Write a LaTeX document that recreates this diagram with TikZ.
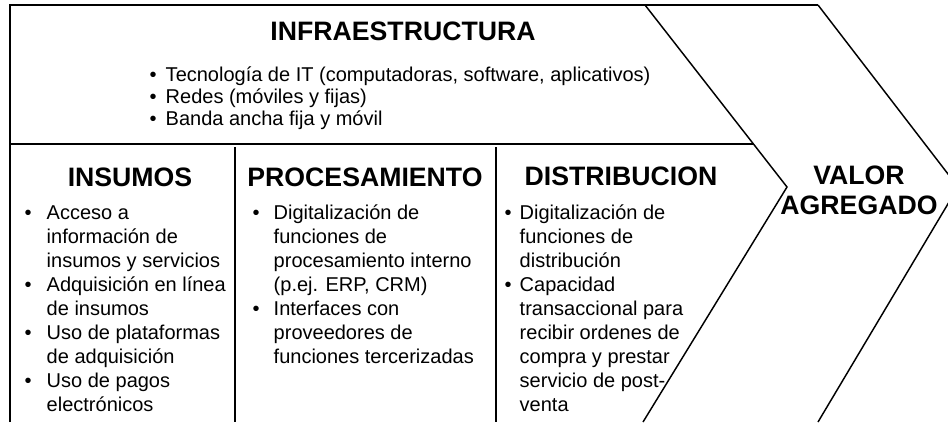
\documentclass[tikz,border=0pt]{standalone}
\usepackage{fontspec}
\setmainfont{Liberation Sans}
\usepackage{array}

\tikzset{every picture/.style={line width=1.1pt}}
\newcommand{\fuentetitulo}{\fontsize{20}{22.5}\selectfont\bfseries}
\newcommand{\fuentelista}{\fontsize{15}{18}\selectfont}

\begin{document}
\begin{tikzpicture}[x=0.75pt,y=0.75pt,yscale=-1,xscale=1,
  encab/.style={anchor=base,inner sep=0pt,font=\fuentetitulo},
  lista/.style={anchor=base west,inner sep=0pt,font=\fuentelista}]
%set diagram to 948 x 426
\clip (0,0) rectangle (948,426);

%Straight Lines: outer frame
\draw    (10,422) -- (10,5) -- (818,5) ;
%Straight Lines: infraestructura divider
\draw    (10,144) -- (753,144) ;
%Straight Lines: column dividers
\draw    (235,147) -- (235,422) ;
\draw    (496,147) -- (496,422) ;
%Chevron: left
\draw    (645,5) -- (787,187) -- (643,422) ;
%Chevron: right
\draw    (818,5) -- (958,187) -- (818,422) ;

% Text Node
\node [encab] (infra) at (403,40) {INFRAESTRUCTURA};
% Text Node
\node [lista] (infra-lista) at (149,81) {\fontsize{15}{16.5}\selectfont
  \begin{tabular}[t]{@{}p{12pt}@{}l@{}}
  \textbullet & Tecnología de IT (computadoras, software, aplicativos)\\
  \textbullet & Redes (móviles y fijas)\\
  \textbullet & Banda ancha fija y móvil
  \end{tabular}};

% Text Node
\node [encab] (insumos) at (130,186) {INSUMOS};
% Text Node
\node [lista] (insumos-lista) at (24,219) {%
  \begin{tabular}[t]{@{}p{16.5pt}@{}l@{}}
  \textbullet & Acceso a\\
              & información de\\
              & insumos y servicios\\
  \textbullet & Adquisición en línea\\
              & de insumos\\
  \textbullet & Uso de plataformas\\
              & de adquisición\\
  \textbullet & Uso de pagos\\
              & electrónicos
  \end{tabular}};

% Text Node
\node [encab] (procesamiento) at (365,186) {PROCESAMIENTO};
% Text Node
\node [lista] (procesamiento-lista) at (252,219) {%
  \begin{tabular}[t]{@{}p{15.75pt}@{}l@{}}
  \textbullet & Digitalización de\\
              & funciones de\\
              & procesamiento interno\\
              & (p.ej. ERP, CRM)\\
  \textbullet & Interfaces con\\
              & proveedores de\\
              & funciones tercerizadas
  \end{tabular}};

% Text Node
\node [encab] (distribucion) at (621,185) {DISTRIBUCION};
% Text Node
\node [lista] (distribucion-lista) at (504,219) {%
  \begin{tabular}[t]{@{}p{11.25pt}@{}l@{}}
  \textbullet & Digitalización de\\
              & funciones de\\
              & distribución\\
  \textbullet & Capacidad\\
              & transaccional para\\
              & recibir ordenes de\\
              & compra y prestar\\
              & servicio de post-\\
              & venta
  \end{tabular}};

% Text Node
\node [encab] (valor) at (859,184) {%
  \begin{tabular}[t]{@{}c@{}}
  VALOR\\
  AGREGADO
  \end{tabular}};

\end{tikzpicture}
\end{document}
